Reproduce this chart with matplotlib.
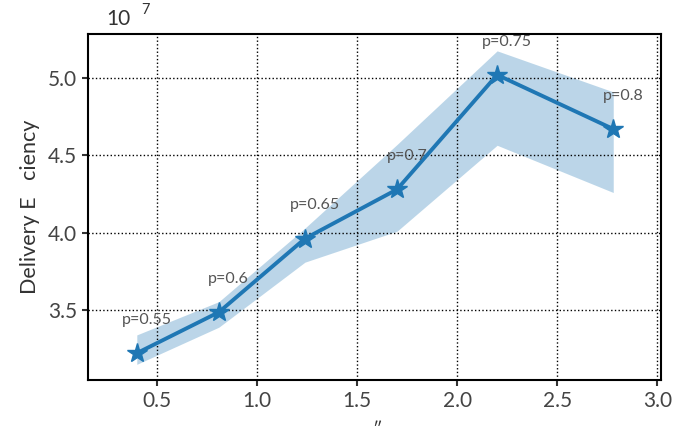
import matplotlib
matplotlib.use("Agg")
import matplotlib.pyplot as plt

x_vals = [0.40, 0.81, 1.24, 1.70, 2.20, 2.78]
y_vals = [3.222, 3.487, 3.962, 4.28, 5.02, 4.67]
y_low = [3.15, 3.39, 3.81, 4.01, 4.565, 4.26]
y_high = [3.34, 3.555, 4.03, 4.57, 5.175, 4.91]
labels = ["p=0.55", "p=0.6", "p=0.65", "p=0.7", "p=0.75", "p=0.8"]

plt.rcParams['font.family'] = ['Lato', 'DejaVu Sans']

fig = plt.figure(figsize=(6.91, 4.30), dpi=100)
ax = fig.add_axes([0.127, 0.116, 0.830, 0.805])

ax.fill_between(x_vals, y_low, y_high, color='#1f77b4', alpha=0.3, linewidth=0)
ax.plot(x_vals, y_vals, color='#1f77b4', lw=2.8, marker='*', markersize=15)
for xv, yv, lab in zip(x_vals, y_vals, labels):
    ax.annotate(lab, (xv, yv), xytext=(7, 24), textcoords='offset points',
                ha='center', va='center', fontsize=11.5, color='#555555')

ax.set_xlim(0.155, 3.02)
ax.set_ylim(3.048, 5.284)
ax.set_xticks([0.5, 1.0, 1.5, 2.0, 2.5, 3.0])
ax.set_yticks([3.5, 4.0, 4.5, 5.0])
ax.grid(True, color='black', linestyle=':', linewidth=1.0)
for s in ax.spines.values():
    s.set_linewidth(1.5)
ax.tick_params(labelsize=15, width=1.5, length=4, colors='#333333')
ax.tick_params(labelcolor='#444444')
ax.set_ylabel("Delivery E   ciency", fontsize=15.5, color='#333333', labelpad=6)

fig.text(0.546, 1 - 422 / 430, "\u2033", fontsize=13, color='#333333',
         ha='center', va='top')

fig.text(0.154, 0.955, "10", fontsize=15, color='#333333', ha='left', va='center')
fig.text(0.204, 0.977, "7", fontsize=10.5, color='#333333', ha='left', va='center')

fig.savefig("out.png", dpi=100)
